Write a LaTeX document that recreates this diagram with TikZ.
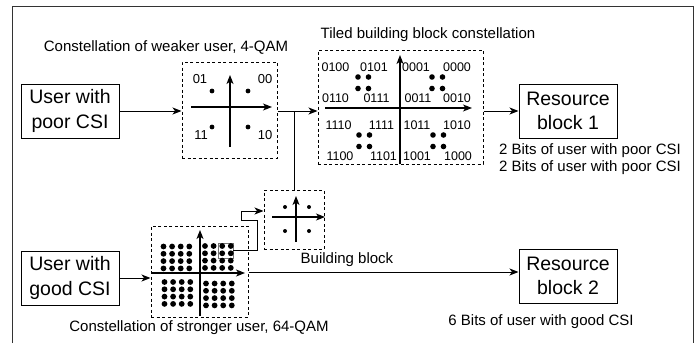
\documentclass[tikz,border=0pt]{standalone}
\usepackage{fontspec}
\setmainfont{Liberation Sans}
\usetikzlibrary{arrows.meta}
\begin{document}
\begin{tikzpicture}[x=1pt,y=-1pt,
  line width=1pt,
  tip/.style={-{Stealth[length=9pt,width=7pt,inset=2.5pt]}},
  solidbox/.style={draw, rectangle, inner sep=0pt, minimum width=98pt, minimum height=54pt, align=center, font=\fontsize{19.5}{24.5}\selectfont},
  dashbox/.style={draw, rectangle, dash pattern=on 3pt off 2.5pt, inner sep=0pt},
  title/.style={inner sep=0pt, font=\fontsize{15}{17}\selectfont, align=center},
  bits/.style={inner sep=0pt, font=\fontsize{12.5}{14}\selectfont},
  qlab/.style={inner sep=0pt, font=\fontsize{13}{15}\selectfont},
  axis/.style={tip, line width=1.1pt},
  dot/.style={fill=black}
]
\useasboundingbox (0,0) rectangle (699,343);
% outer frame
\draw[line width=0.8pt, black!80] (12,343) -- (12,6) -- (693,6) -- (693,343);

% boxes
\node[solidbox] (poor) at (70,111) {User with\\poor CSI};
\node[solidbox] (good) at (70,278) {User with\\good CSI};
\node[solidbox] (rb1) at (568,111) {Resource\\block 1};
\node[solidbox] (rb2) at (568,276) {Resource\\block 2};

\node[dashbox, minimum width=95pt, minimum height=96pt] (qam4) at (229.5,110) {};
\node[dashbox, minimum width=165pt, minimum height=114pt] (tiled) at (400.5,107) {};
\node[dashbox, minimum width=60pt, minimum height=59pt] (bb) at (294,219.5) {};
\node[dashbox, minimum width=97pt, minimum height=91pt] (qam64) at (199.5,271.5) {};
\node[draw=black!55, line width=0.9pt, rectangle, inner sep=0pt, minimum width=15pt, minimum height=15pt] (sel) at (225.5,250.5) {};

% titles
\node[title] (t4) at (166,47) {Constellation of weaker user, 4-QAM};
\node[title] (tt) at (428,35) {Tiled building block constellation};
\node[title] (t64) at (199,328) {Constellation of stronger user, 64-QAM};
\node[title] (tbb) at (347,260) {Building block};
\node[title] (tb1) at (590,159.5) {2 Bits of user with poor CSI\\2 Bits of user with poor CSI};
\node[title] (tb2) at (541,322) {6 Bits of user with good CSI};

% 4-QAM content
\draw[axis] (191,107) -- (272,107);
\draw[axis] (230,147) -- (230,75);
\foreach \x/\y in {212/91,248/91,212/127,248/127} \fill (\x,\y) circle (2.4pt);
\node[qlab] (l01) at (200,79) {01};
\node[qlab] (l00) at (265,79) {00};
\node[qlab] (l11) at (201,135) {11};
\node[qlab] (l10) at (265,135) {10};

% tiled content
\draw[axis] (325,108) -- (472,108);
\draw[axis] (400,164) -- (400,55);
\foreach \cx/\cy in {358/77,432/77,359/135,433/135}
  \foreach \dx/\dy in {0/0,10.5/0,0/11.5,10.5/11.5}
    \fill (\cx+\dx,\cy+\dy) circle (2.8pt);
\node[bits] (a1) at (335.5,67) {0100};
\node[bits] (a2) at (374,67) {0101};
\node[bits] (a3) at (416,67) {0001};
\node[bits] (a4) at (457,67) {0000};
\node[bits] (b1) at (335.5,98) {0110};
\node[bits] (b2) at (376.5,98) {0111};
\node[bits] (b3) at (418,98) {0011};
\node[bits] (b4) at (457,98) {0010};
\node[bits] (c1) at (338.5,125) {1110};
\node[bits] (c2) at (381.5,125) {1111};
\node[bits] (c3) at (417,125) {1011};
\node[bits] (c4) at (457,125) {1010};
\node[bits] (d1) at (340,156) {1100};
\node[bits] (d2) at (383.5,156) {1101};
\node[bits] (d3) at (417,156) {1001};
\node[bits] (d4) at (458,156) {1000};

% building block content
\draw[axis] (272,217) -- (325,217);
\draw[axis] (296,242) -- (296,196);
\foreach \x/\y in {285/207,309/207,285/231,309/231} \fill (\x,\y) circle (2pt);

% 64-QAM content
\draw[axis] (152,273) -- (245,273);
\draw[axis] (200,316) -- (200,230);
\foreach \cx/\cy in {163.5/246.5,205/246,164.5/282,206/283.5}
  \foreach \i in {0,1,2,3}
    \foreach \j in {0,1,2,3}
      \fill (\cx+8.6*\i,\cy+7.3*\j) circle (2.9pt);

% connectors
\coordinate (j) at (294,111);
\draw[tip] (poor.east) -- (poor.east -| qam4.west);
\draw[tip] (qam4.east |- j) -- (tiled.west |- j);
\draw (j |- bb.north) -- (j);
\draw[tip] (tiled.east |- rb1.west) -- (rb1.west);
\draw[tip] (good.east |- 0,278) -- (qam64.west |- 0,278);
\draw[tip] (qam64.east |- 0,272) -- (rb2.west |- 0,272);
\draw[tip] (sel.east) -- (257,250.5) -- (257,220) -- (241,220) -- (241,211) -- (bb.west |- 0,211);
\end{tikzpicture}
\end{document}
